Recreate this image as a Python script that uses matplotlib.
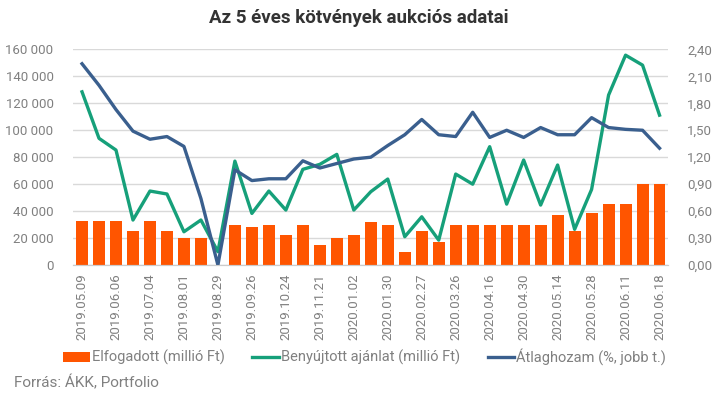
import numpy as np
import matplotlib
matplotlib.use("Agg")
import matplotlib.pyplot as plt
from matplotlib.ticker import FuncFormatter

plt.rcParams['font.family'] = ['Roboto', 'DejaVu Sans']
narrow = ['Liberation Sans Narrow', 'DejaVu Sans Condensed', 'Roboto']

# auction dates (every second one is labelled on the axis)
dates = ["2019.05.09", "2019.05.23", "2019.06.06", "2019.06.20", "2019.07.04",
         "2019.07.18", "2019.08.01", "2019.08.15", "2019.08.29", "2019.09.12",
         "2019.09.26", "2019.10.10", "2019.10.24", "2019.11.07", "2019.11.21",
         "2019.12.05", "2020.01.02", "2020.01.16", "2020.01.30", "2020.02.13",
         "2020.02.27", "2020.03.12", "2020.03.26", "2020.04.09", "2020.04.16",
         "2020.04.23", "2020.04.30", "2020.05.07", "2020.05.14", "2020.05.21",
         "2020.05.28", "2020.06.04", "2020.06.11", "2020.06.16", "2020.06.18"]

accepted = [33000, 33000, 33000, 25000, 33000, 25000, 20000, 20000, 0, 30000,
            28000, 30000, 22000, 30000, 15000, 20000, 22000, 32000, 30000, 10000,
            25000, 17000, 30000, 30000, 30000, 30000, 30000, 30000, 37000, 25000,
            38500, 45000, 45000, 60000, 60000]

submitted = [128500, 94000, 85300, 33400, 54900, 52700, 24700, 33400, 9900, 77100,
             38300, 54900, 40800, 71000, 74700, 82100, 40800, 54400, 63800, 21000,
             35800, 18500, 67500, 60000, 87800, 45200, 77900, 44500, 74200, 26500,
             56100, 126100, 155700, 148300, 111200]

avg_yield = [2.24, 2.00, 1.73, 1.49, 1.40, 1.43, 1.32, 0.74, 0.0, 1.06,
             0.94, 0.96, 0.96, 1.16, 1.08, 1.13, 1.18, 1.20, 1.33, 1.45,
             1.62, 1.45, 1.43, 1.70, 1.42, 1.50, 1.42, 1.53, 1.45, 1.45,
             1.64, 1.53, 1.51, 1.50, 1.30]

c_bar = '#ff5500'
c_green = '#16a07a'
c_blue = '#3a5f8e'
c_text = '#808080'

x = np.arange(len(dates))

fig = plt.figure(figsize=(7.18, 3.95), dpi=100)
ax = fig.add_axes([0.1017, 0.329, 0.828, 0.546])
ax2 = ax.twinx()

bars = ax.bar(x, accepted, 0.7, color=c_bar, label="Elfogadott (millió Ft)", zorder=2)
l1, = ax.plot(x, submitted, color=c_green, lw=2.4, label="Benyújtott ajánlat (millió Ft)", zorder=3)
l2, = ax2.plot(x, avg_yield, color=c_blue, lw=2.4, label="Átlaghozam (%, jobb t.)")

ax.set_xlim(-0.53, len(dates) - 0.53)
ax.set_ylim(0, 160000)
ax.set_yticks(np.arange(0, 160001, 20000))
ax.yaxis.set_major_formatter(FuncFormatter(lambda v, p: f"{int(v):,}".replace(",", " ")))
ax2.set_ylim(0, 2.4)
ax2.set_yticks(np.arange(0, 2.41, 0.3))
ax2.yaxis.set_major_formatter(FuncFormatter(lambda v, p: f"{v:.2f}".replace(".", ",")))

ax.set_xticks(x[::2])
ax.set_xticklabels(dates[::2], rotation=90)

ax.grid(axis='y', color='#d9d9d9', lw=1, zorder=0)
ax.set_axisbelow(True)
for a in (ax, ax2):
    for s in ('top', 'left', 'right'):
        a.spines[s].set_visible(False)
    a.spines['bottom'].set_color('#cccccc')
    a.tick_params(length=0, labelsize=9.5, colors=c_text)
ax.tick_params(axis='y', pad=14)
ax.tick_params(axis='x', pad=6)
ax2.tick_params(axis='y', pad=14)

fig.text(0.5, 0.955, "Az 5 éves kötvények aukciós adatai", ha='center', va='center',
         fontsize=13.5, fontweight='bold', color='#333333')

handles = [bars, l1, l2]
labels = ["Elfogadott (millió Ft)", "Benyújtott ajánlat (millió Ft)", "Átlaghozam (%, jobb t.)"]
fig.legend(handles, labels, loc='center left',
           bbox_to_anchor=(0.07, 0.097), ncol=3, frameon=False,
           prop={'family': narrow, 'size': 10.5},
           labelcolor=c_text, handlelength=1.8, handletextpad=0.15, columnspacing=1.9)

fig.text(0.019, 0.031, "Forrás: ÁKK, Portfolio", ha='left', va='center',
         fontsize=11, family=narrow, color=c_text)

fig.savefig("out.png", dpi=100)
